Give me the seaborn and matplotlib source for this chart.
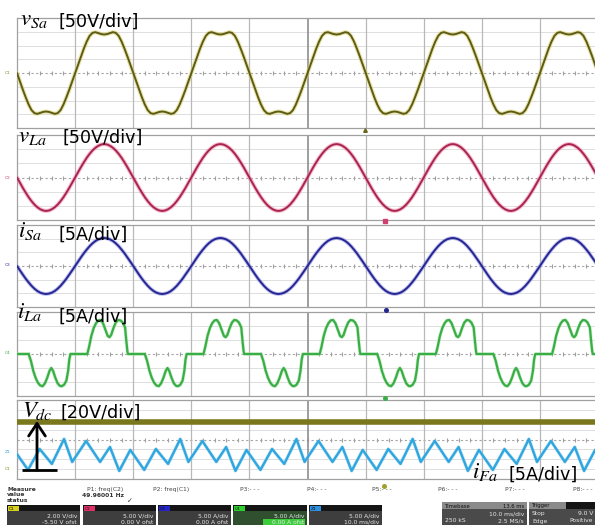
import numpy as np
import pandas as pd
import matplotlib
matplotlib.use("Agg")
import matplotlib.pyplot as plt
import seaborn as sns
from matplotlib.patches import Rectangle

# ------------------------------------------------------------------ data
# Oscilloscope: 10 ms/div, 10 divisions; fundamental period 20 ms (50 Hz)
period_ms = 20.0
n_periods = 5
sample_ms = [0.5 * k for k in range(40)]  # sampling instants inside one period

vSa_period = [0, -0.61, -1.21, -1.77, -2.29, -2.70, -2.92, -2.97, -2.90, -2.83,
              -2.80, -2.83, -2.90, -2.97, -2.92, -2.70, -2.29, -1.77, -1.21, -0.61,
              0, 0.61, 1.21, 1.77, 2.29, 2.70, 2.92, 2.97, 2.90, 2.83,
              2.80, 2.83, 2.90, 2.97, 2.92, 2.70, 2.29, 1.77, 1.21, 0.61]

vLa_period = [0, -0.37, -0.73, -1.07, -1.39, -1.67, -1.91, -2.10, -2.24, -2.33,
              -2.36, -2.33, -2.24, -2.10, -1.91, -1.67, -1.39, -1.07, -0.73, -0.37,
              0, 0.37, 0.73, 1.07, 1.39, 1.67, 1.91, 2.10, 2.24, 2.33,
              2.36, 2.33, 2.24, 2.10, 1.91, 1.67, 1.39, 1.07, 0.73, 0.37]

iSa_period = [0, -0.32, -0.63, -0.93, -1.20, -1.45, -1.66, -1.83, -1.95, -2.02,
              -2.05, -2.02, -1.95, -1.83, -1.66, -1.45, -1.20, -0.93, -0.63, -0.32,
              0, 0.32, 0.63, 0.93, 1.20, 1.45, 1.66, 1.83, 1.95, 2.02,
              2.05, 2.02, 1.95, 1.83, 1.66, 1.45, 1.20, 0.93, 0.63, 0.32]

# load current i_La : knots of one period (ms, sub-div)
iLa_t = [0, 2.0, 2.4, 2.8, 3.2, 3.6, 4.0, 4.4, 4.8, 5.2, 5.6, 5.9, 6.2, 6.6, 7.0,
         7.4, 7.7, 8.1, 8.5, 8.8, 9.0, 9.2,
         12.1, 12.4, 12.8, 13.2, 13.6, 14.0, 14.4, 14.8, 15.2, 15.6, 15.9, 16.2,
         16.6, 17.0, 17.4, 17.8, 18.2, 18.6, 18.8, 19.0, 19.1]
iLa_v = [0, 0, -0.5, -1.2, -1.7, -2.05, -2.25, -2.3, -2.1, -1.7, -1.2, -1.0, -1.2,
         -1.7, -2.1, -2.28, -2.3, -2.2, -1.9, -1.2, -0.4, 0,
         0, 0.5, 1.3, 1.85, 2.2, 2.4, 2.43, 2.2, 1.75, 1.3, 1.2, 1.35,
         1.85, 2.25, 2.43, 2.4, 2.25, 1.9, 1.0, 0.2, 0]

# filter current i_Fa : knots of one period (ms after a large peak, sub-div)
iFa_t = [0, 1.4, 3.8, 6.2, 7.9, 9.5, 11.4, 13.8, 15.8, 17.9]
iFa_v = [0.05, -2.27, -0.15, -2.27, -0.76, -3.18, -1.06, -3.08, -0.96, -2.47]
iFa_phase_ms = -11.9

# dc-link voltage level (sub-div)
Vdc_t = [0, 100]
Vdc_v = [1.77, 1.77]

trace_names = ["vSa", "vLa", "iSa", "iLa", "Vdc/iFa"]
math_labels = [r"$v_{Sa}$", r"$v_{La}$", r"$i_{Sa}$", r"$i_{La}$", r"$V_{dc}$", r"$i_{Fa}$"]
scale_labels = ["[50V/div]", "[50V/div]", "[5A/div]", "[5A/div]", "[20V/div]", "[5A/div]"]
meas_labels = ["P1: freq(C2)", "P2: freq(C1)", "P3:- - -", "P4:- - -",
               "P5:- - -", "P6:- - -", "P7:- - -", "P8:- - -"]
meas_value = "49.96001 Hz"
chan_boxes = [("C1", "2.00 V/div", "-5.50 V ofst"), ("C2", "5.00 V/div", "0.00 V ofst"),
              ("C3", "5.00 A/div", "0.00 A ofst"), ("C4", "5.00 A/div", "0.00 A ofst"),
              ("Z1", "5.00 A/div", "10.0 ms/div")]


# ------------------------------------------------------------------ helpers
def sampled(values):
    ts, vs = [], []
    for k in range(n_periods):
        ts += [k * period_ms + s for s in sample_ms]
        vs += list(values)
    ts.append(n_periods * period_ms)
    vs.append(values[0])
    return pd.DataFrame({"t": ts, "v": vs})


def knotted(t_knots, v_knots, phase=0.0, k_to=n_periods):
    ts, vs = [], []
    for k in range(k_to):
        ts += [phase + k * period_ms + t for t in t_knots]
        vs += list(v_knots)
    ts.append(phase + k_to * period_ms + t_knots[0])
    vs.append(v_knots[0])
    return pd.DataFrame({"t": ts, "v": vs})


sns.set_style("white")
plt.rcParams["font.family"] = ["DejaVu Sans"]
plt.rcParams["mathtext.fontset"] = "stix"

W, H = 595, 525
fig = plt.figure(figsize=(W / 100, H / 100), dpi=100)
fig.patch.set_facecolor("white")

panels = [(18, 128, 8), (135, 220, 6), (225, 307, 6), (312, 396, 6), (400, 479, 8)]
left_px, right_px = 17, 598

axes = []
for top, bot, nsub in panels:
    ax = fig.add_axes([left_px / W, 1 - bot / H, (right_px - left_px) / W, (bot - top) / H])
    h = nsub / 2
    ax.set_xlim(0, 100)
    ax.set_ylim(-h, h)
    ax.set_xticks([])
    ax.set_yticks([])
    ax.set_facecolor("white")
    ax.spines["right"].set_visible(False)
    for s in ["top", "bottom", "left"]:
        ax.spines[s].set_color("#a0a0a0")
        ax.spines[s].set_linewidth(0.9)
    for k in range(1, nsub):
        y = -h + k
        if y == 0:
            ax.axhline(0, color="#a4a4a4", lw=0.8, ls=(0, (2, 2.2)), zorder=1)
            ax.plot(np.arange(0, 101, 2), np.zeros(51), ls="none", marker="|",
                    ms=2.5, mew=0.8, color="#a0a0a0", zorder=1)
        else:
            ax.axhline(y, color="#dedede", lw=0.7, zorder=1)
    for xv in range(10, 100, 10):
        ax.axvline(xv, color="#8e8e8e" if xv == 50 else "#b8b8b8",
                   lw=1.2 if xv == 50 else 0.9, zorder=1)
    axes.append(ax)


def trace(ax, df, core, lw, glow=None, glw=None):
    if glow is not None:
        sns.lineplot(data=df, x="t", y="v", ax=ax, color=glow, lw=glw, alpha=0.55,
                     estimator=None, sort=False, legend=False, zorder=3)
    sns.lineplot(data=df, x="t", y="v", ax=ax, color=core, lw=lw,
                 estimator=None, sort=False, legend=False, zorder=4)
    ax.set_xlabel("")
    ax.set_ylabel("")
    ax.set_xlim(0, 100)


trace(axes[0], sampled(vSa_period), "#5e5b18", 1.4, "#d8d266", 3.0)
trace(axes[1], sampled(vLa_period), "#a8244f", 1.4, "#f08cab", 3.0)
trace(axes[2], sampled(iSa_period), "#262692", 1.4, "#8e8ee2", 2.8)
trace(axes[3], knotted(iLa_t, iLa_v), "#3aae46", 1.6, "#a6e3a6", 2.6)
trace(axes[4], pd.DataFrame({"t": Vdc_t, "v": Vdc_v}), "#7a781c", 4.0)
trace(axes[4], knotted(iFa_t, iFa_v, phase=iFa_phase_ms, k_to=6), "#30a6df", 1.7, "#9fd6f2", 2.6)
for ax in axes:
    ax.set_ylim(ax.get_ylim())

# ------------------------------------------------------------------ overlay (pixel coords)
ov = fig.add_axes([0, 0, 1, 1])
ov.set_xlim(0, W)
ov.set_ylim(H, 0)
ov.axis("off")
ov.patch.set_alpha(0)
ov.set_zorder(10)

math_pos = [(20, 25), (18, 142), (18, 237), (17, 318), (22, 417), (472, 478)]
scale_pos = [(59, 27), (62, 143), (58, 240), (58, 322), (60, 418), (508, 480)]
for s, (x, y) in zip(math_labels, math_pos):
    ov.text(x, y, s, fontsize=16.5, va="baseline", ha="left", color="black")
for s, (x, y) in zip(scale_labels, scale_pos):
    ov.text(x, y, s, fontsize=12.6, va="baseline", ha="left", color="black")

# Vdc arrow
ov.annotate("", xy=(37, 421), xytext=(37, 470),
            arrowprops=dict(arrowstyle="->,head_length=0.45,head_width=0.3",
                            color="black", lw=2.0, mutation_scale=20, shrinkA=0, shrinkB=0))
ov.plot([22, 57], [470, 470], color="black", lw=2.0, solid_capstyle="butt")

# channel reference markers at the left edge
for (y, c, s) in [(73, "#8c8a2a", "C1"), (178, "#d0406e", "C2"), (265, "#3434b0", "C3"),
                  (353, "#3aae46", "C4"), (452, "#30a6df", "Z1"), (469, "#8c8a2a", "C1")]:
    ov.text(5, y, s, fontsize=3.2, color=c, va="center", ha="left")

# trigger markers
for (x, y, c, m) in [(365, 130, "#6a6820", "^"), (385, 221, "#d0406e", "s"),
                     (386, 310, "#262692", "o"), (385, 398, "#3aae46", "o"),
                     (384, 486, "#a0a030", "o")]:
    ov.plot([x], [y], marker=m, ms=2.6, color=c, ls="none")

# measurement line
ov.text(7, 491, "Measure", fontsize=4.3, fontweight="bold", color="#333333", va="baseline")
ov.text(7, 496.5, "value", fontsize=4.3, fontweight="bold", color="#333333", va="baseline")
ov.text(7, 502, "status", fontsize=4.3, fontweight="bold", color="#333333", va="baseline")
meas_x = [87, 153, 240, 307, 372, 438, 505, 573]
for s, x in zip(meas_labels, meas_x):
    ov.text(x, 491, s, fontsize=4.3, color="#444444", va="baseline")
ov.text(82, 497, meas_value, fontsize=4.3, color="#333333", va="baseline", fontweight="bold")
ov.text(127, 503, "\u2713", fontsize=5, color="#333333", va="baseline")

# channel boxes
tag_colors = ["#d6d020", "#e0306a", "#2424c8", "#30d030", "#3090e0"]
box_x = [(7, 80), (83, 156), (158, 231), (233, 307), (309, 382)]
for (x0, x1), tc, (name, l1, l2) in zip(box_x, tag_colors, chan_boxes):
    body = "#2f4f2f" if name == "C4" else "#3e3e3e"
    ov.add_patch(Rectangle((x0, 505), x1 - x0, 20, color=body, lw=0))
    ov.add_patch(Rectangle((x0, 505), x1 - x0, 6, color="#151515", lw=0))
    ov.add_patch(Rectangle((x0 + 1, 505.5), 11, 5, color=tc, lw=0))
    ov.text(x0 + 2, 510, name, fontsize=3.2, color="#111111", va="baseline")
    ov.text(x1 - 3, 517, l1, fontsize=4.3, color="#e8e8e8", va="baseline", ha="right")
    if name == "C4":
        ov.add_patch(Rectangle((x0 + 30, 518.5), x1 - x0 - 32, 6, color="#3ccc3c", lw=0))
    ov.text(x1 - 3, 523.5, l2, fontsize=4.3, color="#e8e8e8", va="baseline", ha="right")

ov.add_patch(Rectangle((442, 502), 85, 23, color="#4a4a4a", lw=0))
ov.add_patch(Rectangle((442, 502), 85, 6.5, color="#8a8a8a", lw=0))
ov.text(445, 507.5, "Timebase", fontsize=3.8, color="#111111", va="baseline")
ov.text(524, 507.5, "13.6 ms", fontsize=3.8, color="#111111", va="baseline", ha="right")
ov.text(524, 515, "10.0 ms/div", fontsize=4.3, color="#e8e8e8", va="baseline", ha="right")
ov.text(445, 522.5, "250 kS", fontsize=4.3, color="#e8e8e8", va="baseline")
ov.text(524, 522.5, "2.5 MS/s", fontsize=4.3, color="#e8e8e8", va="baseline", ha="right")

ov.add_patch(Rectangle((529, 502), 66, 23, color="#4a4a4a", lw=0))
ov.add_patch(Rectangle((529, 502), 66, 6.5, color="#8a8a8a", lw=0))
ov.add_patch(Rectangle((566, 502), 29, 6.5, color="#151515", lw=0))
ov.text(532, 507.5, "Trigger", fontsize=3.8, color="#111111", va="baseline")
ov.text(532, 515, "Stop", fontsize=4.3, color="#e8e8e8", va="baseline")
ov.text(593, 515, "9.0 V", fontsize=4.3, color="#e8e8e8", va="baseline", ha="right")
ov.text(532, 522.5, "Edge", fontsize=4.3, color="#e8e8e8", va="baseline")
ov.text(593, 522.5, "Positive", fontsize=4.3, color="#e8e8e8", va="baseline", ha="right")

fig.savefig("out.png", dpi=100, facecolor="white")
